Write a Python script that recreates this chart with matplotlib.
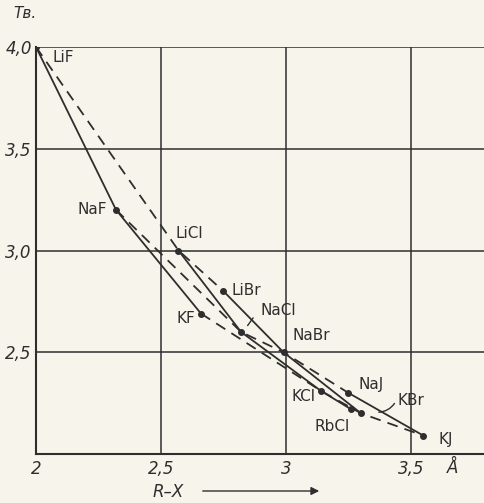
import matplotlib
matplotlib.use("Agg")
import matplotlib.pyplot as plt

# ---- data ----
names = ["LiF", "NaF", "KF", "LiCl", "NaCl", "KCl", "RbCl",
         "LiBr", "NaBr", "KBr", "NaJ", "KJ"]
r_x = [2.00, 2.32, 2.66, 2.57, 2.82, 3.14, 3.26, 2.75, 2.99, 3.30, 3.25, 3.55]
hardness = [4.00, 3.20, 2.69, 3.00, 2.60, 2.31, 2.22, 2.80, 2.50, 2.20, 2.30, 2.09]

solid_series = [["LiF", "NaF", "KF"],
                ["LiCl", "NaCl", "KCl", "RbCl"],
                ["LiBr", "NaBr", "KBr"],
                ["NaJ", "KJ"]]
dashed_series = [["LiF", "LiCl", "LiBr"],
                 ["NaF", "NaCl", "NaBr", "NaJ"],
                 ["KF", "KCl", "KBr", "KJ"]]

x_ticks = [2.0, 2.5, 3.0, 3.5]
x_ticklabels = ["2", "2,5", "3", "3,5"]
y_ticks = [2.5, 3.0, 3.5, 4.0]
y_ticklabels = ["2,5", "3,0", "3,5", "4,0"]

# label offsets (pixels) and alignment
label_style = {
    "LiF": (16, -10, "left"), "NaF": (-9, 0, "right"), "LiCl": (-3, 17, "left"),
    "LiBr": (8, 1, "left"), "NaCl": (20, 21, "left"), "KF": (-6, -5, "right"),
    "NaBr": (9, 17, "left"), "KCl": (-5, -6, "right"), "NaJ": (10, 8, "left"),
    "RbCl": (-19, -17, "center"), "KBr": (37, 13, "left"), "KJ": (15, -4, "left"),
}

bg = "#f7f5eb"
ink = "#2e2e2e"

fig = plt.figure(figsize=(4.85, 5.03), dpi=100, facecolor=bg)
ax = fig.add_axes([36 / 485, 49 / 503, 450 / 485, 407 / 503])
ax.set_facecolor(bg)
ax.set_xlim(2.0, 3.8)
ax.set_ylim(2.0, 4.0)

pts = dict(zip(names, zip(r_x, hardness)))

for s in solid_series:
    ax.plot([pts[n][0] for n in s], [pts[n][1] for n in s], color=ink, lw=1.3,
            solid_capstyle="round", zorder=3)
for s in dashed_series:
    ax.plot([pts[n][0] for n in s], [pts[n][1] for n in s], color=ink, lw=1.3,
            dashes=(6, 4), zorder=3)

ax.plot(r_x, hardness, "o", color=ink, ms=4, zorder=4)

for n in names:
    dx, dy, ha = label_style[n]
    ax.annotate(n, pts[n], xytext=(dx, dy), textcoords="offset pixels",
                ha=ha, va="center", fontsize=11, color=ink, zorder=5)

# leader lines
ax.annotate("", xy=(pts["NaCl"][0] + 0.02, pts["NaCl"][1] + 0.02),
            xytext=(pts["NaCl"][0] + 0.055, pts["NaCl"][1] + 0.08),
            arrowprops=dict(arrowstyle="-", color=ink, lw=1.0))
ax.annotate("", xy=(pts["KBr"][0] + 0.06, pts["KBr"][1] + 0.005),
            xytext=(pts["KBr"][0] + 0.14, pts["KBr"][1] + 0.06),
            arrowprops=dict(arrowstyle="-", color=ink, lw=1.0,
                            connectionstyle="arc3,rad=-0.3"))

# grid
for xv in x_ticks[1:]:
    ax.axvline(xv, color=ink, lw=1.1, zorder=1)
for yv in y_ticks:
    ax.axhline(yv, color=ink, lw=1.1, zorder=1)

for sp in ["top", "right"]:
    ax.spines[sp].set_visible(False)
for sp in ["left", "bottom"]:
    ax.spines[sp].set_color(ink)
    ax.spines[sp].set_linewidth(1.5)

ax.set_xticks(x_ticks)
ax.set_xticklabels(x_ticklabels)
ax.set_yticks(y_ticks)
ax.set_yticklabels(y_ticklabels)
ax.tick_params(length=0, colors=ink, labelsize=12, pad=4)
for t in ax.get_xticklabels() + ax.get_yticklabels():
    t.set_fontstyle("italic")
ax.tick_params(axis="y", pad=3)

ax.text(3.665, 2.0 - 0.025, "Å", transform=ax.transData, ha="center", va="top",
        fontsize=12, fontstyle="italic", color=ink)

fig.text(13 / 485, 1 - 13 / 503, "Тв.", fontsize=11, fontstyle="italic",
         color=ink, ha="left", va="center")
fig.text(168 / 485, 1 - 492 / 503, "R–X", fontsize=12, fontstyle="italic",
         color=ink, ha="center", va="center")
fig.add_artist(matplotlib.patches.FancyArrowPatch(
    (200 / 485, 1 - 491 / 503), (322 / 485, 1 - 491 / 503),
    transform=fig.transFigure, arrowstyle="-|>", mutation_scale=12,
    color=ink, lw=1.0))

fig.savefig("out.png", dpi=100, facecolor=bg)
